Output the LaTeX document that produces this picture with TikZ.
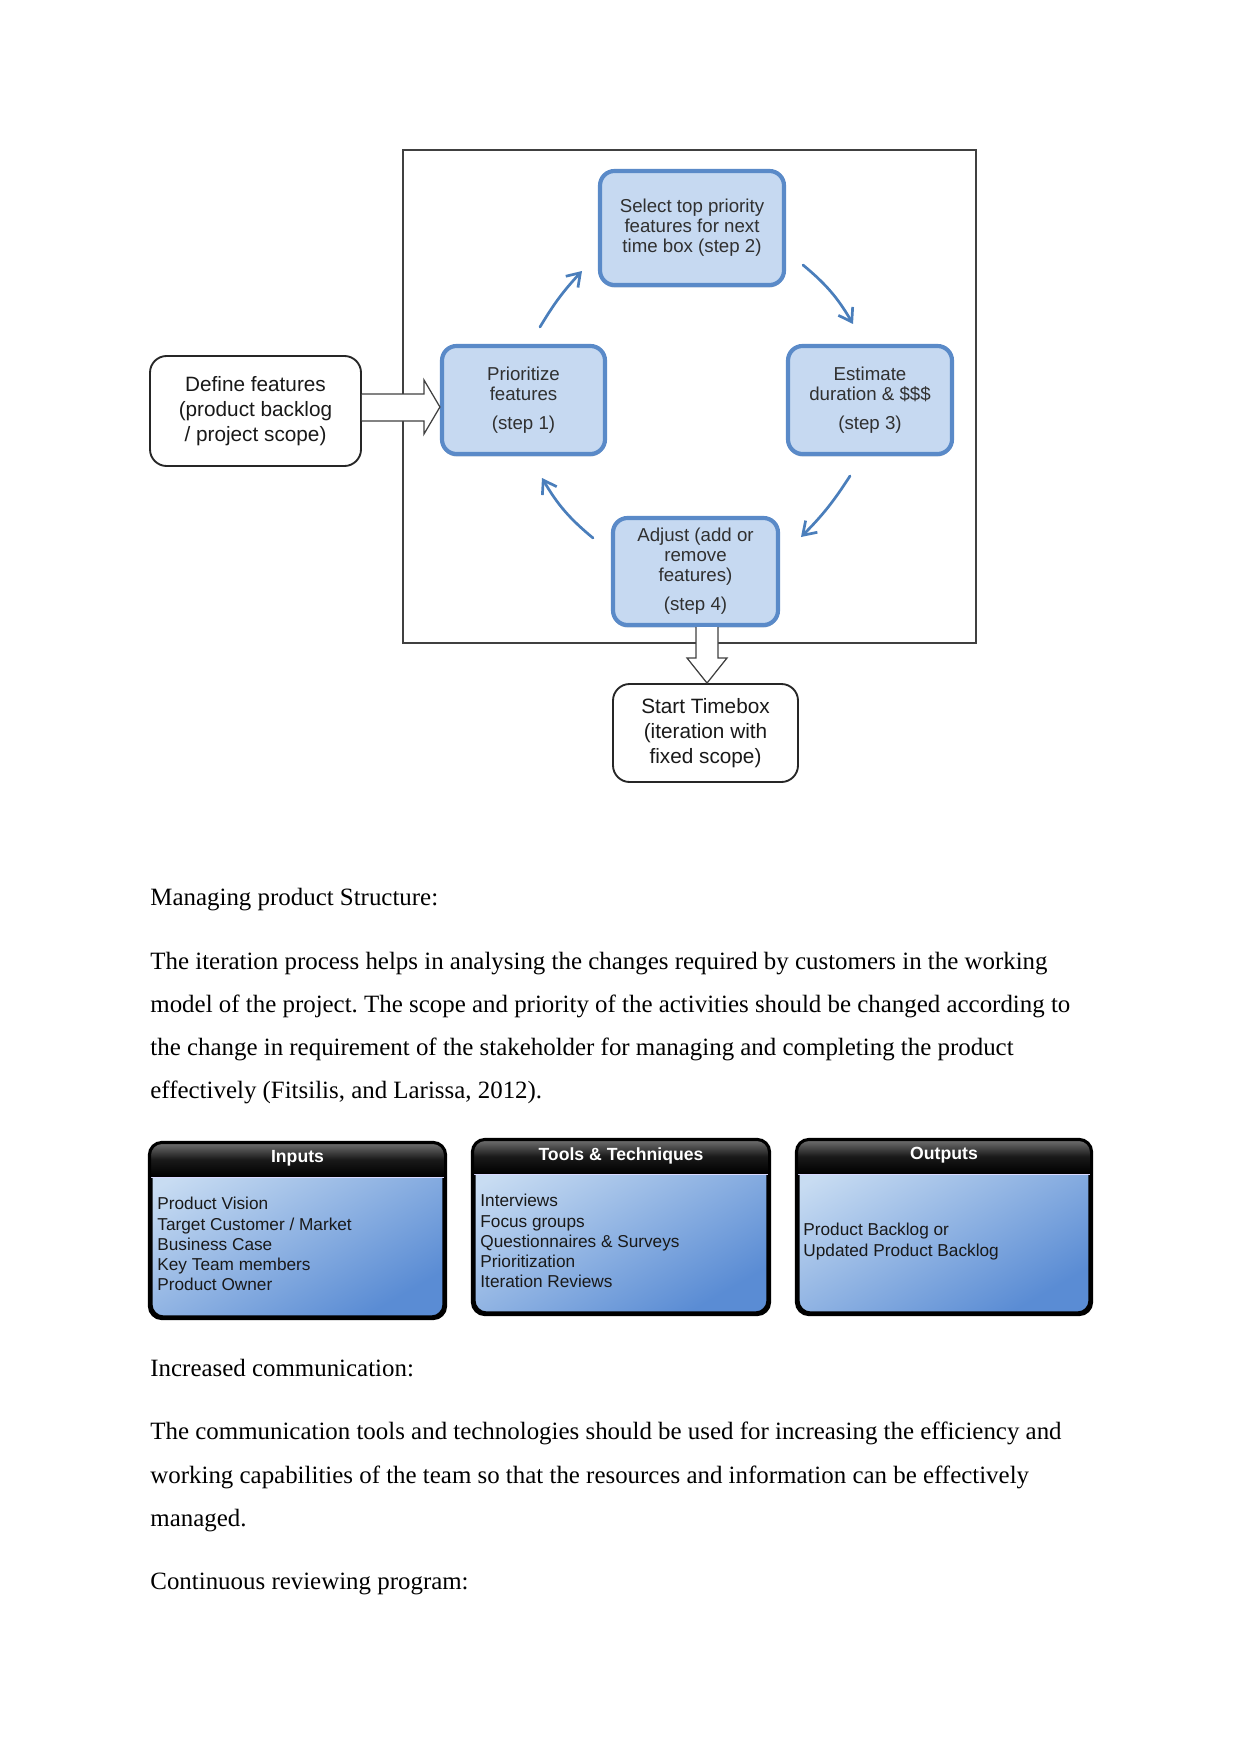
\documentclass[tikz,border=0pt]{standalone}
\usepackage{fontspec}
\setmainfont{Liberation Serif}
\newfontfamily\arialf{Liberation Sans}
\usetikzlibrary{arrows.meta,calc,shadows}
\definecolor{stepfill}{HTML}{C6D9F1}
\definecolor{stepline}{HTML}{5A8AC8}
\definecolor{arrowblue}{HTML}{4A7EBB}
\definecolor{bodylight}{HTML}{C8DCF2}
\definecolor{bodydark}{HTML}{5A8CD4}
\definecolor{steptext}{HTML}{303030}
\newcommand\pxu{0.4818pt}
\frenchspacing
\begin{document}
\begin{tikzpicture}[x=0.4818pt,y=-0.4818pt,
  stepbox/.style={draw=stepline, line width=2pt, fill=stepfill, rounded corners=7pt,
    align=center, text=steptext, font=\arialf\fontsize{9}{9.7}\selectfont, inner sep=0pt,
    drop shadow={shadow xshift=0pt, shadow yshift=-1.2pt, fill=stepline!70!black, opacity=0.45}},
  whitebox/.style={draw=black!85, line width=0.9pt, fill=white, rounded corners=8pt,
    align=center, text=black!90, font=\arialf\fontsize{10}{11.9}\selectfont, inner sep=0pt},
  hollow/.style={draw=black!75, line width=0.6pt, fill=white, line join=miter},
  cyc/.style={draw=arrowblue, line width=1.3pt, line cap=round,
    -{Straight Barb[length=6pt,width=8pt,line width=1.3pt]}},
  paratext/.style={anchor=base west, inner sep=0pt, font=\fontsize{12}{14}\selectfont},
  panel/.style={draw=black, line width=1.5pt, rounded corners=6pt, inner sep=0pt,
    shading=axis, top color=bodylight, bottom color=bodydark, shading angle=30},
  panelhead/.style={text=white, font=\arialf\bfseries\fontsize{8.5}{10}\selectfont, inner sep=0pt},
  paneltext/.style={anchor=north west, align=left, inner sep=0pt, text=black!90,
    font=\arialf\fontsize{8.3}{9.7}\selectfont},
  frameline/.style={draw=black!75, line width=0.7pt}
]
\useasboundingbox (0,0) rectangle (1241,1754);

% ---------- process diagram ----------
\draw[frameline] (403,150) rectangle (976,643);

\node[stepbox, minimum width=163*\pxu, minimum height=108*\pxu] (p) at (523.5,400)
  {Prioritize\\features\\[4.3pt](step 1)};
\node[stepbox, minimum width=184*\pxu, minimum height=114*\pxu] (s) at (692,228)
  {Select top priority\\features for next\\time box (step 2)};
\node[stepbox, minimum width=164*\pxu, minimum height=108*\pxu] (e) at (870,400)
  {Estimate\\duration \& \$\$\$\\[4.3pt](step 3)};
\node[stepbox, minimum width=165*\pxu, minimum height=107*\pxu] (a) at (695.5,571.5)
  {Adjust (add or\\remove\\features)\\[4.3pt](step 4)};

\node[whitebox, minimum width=211*\pxu, minimum height=110*\pxu] (d) at (255.5,411)
  {Define features\\(product backlog\\/ project scope)};
\node[whitebox, minimum width=185*\pxu, minimum height=98*\pxu] (t) at (705.5,733)
  {Start Timebox\\(iteration with\\fixed scope)};

% hollow block arrows
\draw[hollow] (d.east |- 0,394) -- (424,394) -- (424,380) -- (p.west |- 0,407)
  -- (424,434) -- (424,421) -- (d.east |- 0,421);
\draw[hollow] (696,0 |- a.south) -- (696,658) -- (687,658) -- (707,0 |- t.north)
  -- (727,658) -- (718,658) -- (718,0 |- a.south);

% cycle arrows
\coordinate (c1s) at (540,327); \coordinate (c1e) at (582,271);
\coordinate (c2s) at (803,265); \coordinate (c2e) at (853,324);
\coordinate (c3s) at (850,476); \coordinate (c3e) at (801,537);
\coordinate (c4s) at (593,538); \coordinate (c4e) at (542,478);
\draw[cyc] (c1s) to[bend left=6] (c1e);
\draw[cyc] (c2s) to[bend left=10] (c2e);
\draw[cyc] (c3s) to[bend left=6] (c3e);
\draw[cyc] (c4s) to[bend left=10] (c4e);

% ---------- text ----------
\node[paratext] (h1) at (150,905) {Managing product Structure:};
\node[paratext] (l1) at (150,969) {The iteration process helps in analysing the changes required by customers in the working};
\node[paratext] (l2) at (150,1012) {model of the project. The scope and priority of the activities should be changed according to};
\node[paratext] (l3) at (150,1055) {the change in requirement of the stakeholder for managing and completing the product};
\node[paratext] (l4) at (150,1098) {effectively (Fitsilis, and Larissa, 2012).};

\node[paratext] (h2) at (150,1376) {Increased communication:};
\node[paratext] (m1) at (150,1439) {The communication tools and technologies should be used for increasing the efficiency and};
\node[paratext] (m2) at (150,1483) {working capabilities of the team so that the resources and information can be effectively};
\node[paratext] (m3) at (150,1526) {managed.};
\node[paratext] (h3) at (150,1589) {Continuous reviewing program:};

% ---------- panels ----------
\foreach \nm/\cx/\cy/\w/\h/\ttl in {in/297.5/1230.5/293/173/Inputs, tt/621/1227/294/172/Tools \& Techniques, out/944/1227/292/172/Outputs}{
  \node[panel, minimum width=\w*\pxu, minimum height=\h*\pxu] (\nm) at (\cx,\cy) {};
  \begin{scope}
    \clip[rounded corners=6pt] (\nm.north west) rectangle (\nm.south east);
    \shade[top color=black!55, bottom color=black, middle color=black!90]
      (\nm.north west) rectangle ($(\nm.north east)+(0,34)$);
    \draw[white!85!blue, line width=0.6pt] ($(\nm.north west)+(0,35)$) -- ($(\nm.north east)+(0,35)$);
  \end{scope}
  \draw[line width=1.5pt, rounded corners=6pt] (\nm.north west) rectangle (\nm.south east);
  \node[panelhead] (\nm-h) at ($(\nm.north)+(0,16)$) {\ttl};
}
\node[paneltext] (in-t) at (157,1197)
  {Product Vision\\Target Customer / Market\\Business Case\\Key Team members\\Product Owner};
\node[paneltext] (tt-t) at (480,1194)
  {Interviews\\Focus groups\\Questionnaires \& Surveys\\Prioritization\\Iteration Reviews};
\node[paneltext] (out-t) at (803,1223)
  {Product Backlog or\\Updated Product Backlog};
\end{tikzpicture}
\end{document}
